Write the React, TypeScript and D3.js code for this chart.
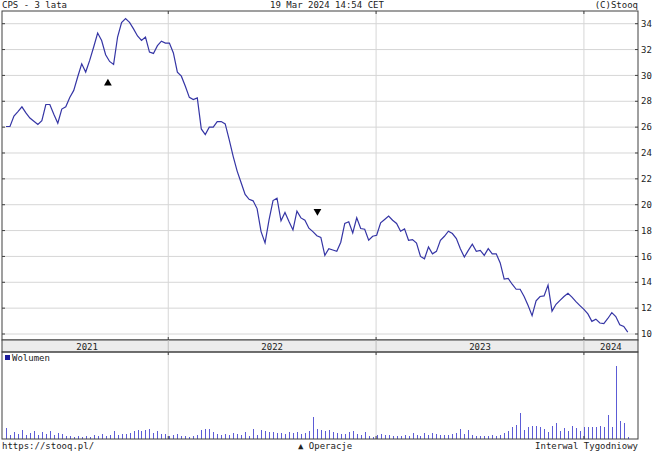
import React from 'react';
import * as d3 from 'd3';

const W = 655;
const H = 452;

// Weekly sessions (Mondays) – 3 years
const weeks: Date[] = d3.timeMonday.range(new Date(2021, 2, 22), new Date(2024, 2, 19));

const closePrices: number[] = [
  26.05, 26.05, 26.85, 27.2, 27.57, 27.1, 26.7, 26.45, 26.2, 26.5,
  27.75, 27.75, 27.0, 26.3, 27.4, 27.57, 28.3, 28.84, 29.9, 30.9,
  30.26, 31.16, 32.2, 33.28, 32.7, 31.6, 31.08, 30.85, 32.97, 34.08,
  34.39, 34.1, 33.6, 33.05, 32.7, 32.97, 31.8, 31.7, 32.3, 32.65,
  32.5, 32.5, 31.74, 30.25, 29.94, 29.16, 28.3, 28.13, 28.26, 25.86,
  25.42, 26.0, 26.0, 26.43, 26.43, 26.25, 25.03, 23.74, 22.6, 21.7,
  20.8, 20.42, 20.3, 19.7, 17.92, 17.05, 18.82, 20.32, 20.5, 18.75,
  19.4, 18.7, 18.05, 19.5, 18.98, 18.8, 18.18, 17.92, 17.6, 17.47,
  16.08, 16.6, 16.5, 16.4, 17.1, 18.55, 18.68, 17.82, 18.99, 18.16,
  18.1, 17.25, 17.56, 17.64, 18.6, 18.86, 19.12, 18.8, 18.55, 17.95,
  18.13, 17.25, 17.3, 17.04, 16.0, 15.82, 16.73, 16.2, 16.39, 17.25,
  17.56, 17.95, 17.77, 17.38, 16.6, 15.95, 16.47, 16.94, 16.39, 16.47,
  16.08, 16.6, 16.2, 16.2, 15.5, 14.25, 14.3, 13.85, 13.46, 13.46,
  12.9, 12.2, 11.42, 12.56, 12.9, 12.95, 13.78, 11.77, 12.3, 12.6,
  12.9, 13.15, 12.85, 12.5, 12.2, 11.9, 11.55, 10.98, 11.15, 10.85,
  10.8, 11.2, 11.65, 11.35, 10.72, 10.58, 10.15,
];

const volumes: number[] = [
  11, 4, 7, 5, 9, 4, 6, 8, 4, 7,
  5, 8, 4, 6, 5, 3, 3, 2, 3, 2,
  3, 2, 4, 3, 5, 3, 4, 8, 4, 5,
  5, 6, 8, 9, 8, 9, 10, 6, 8, 5,
  5, 3, 4, 5, 3, 3, 2, 3, 4, 9,
  10, 10, 7, 5, 4, 5, 4, 6, 5, 4,
  7, 3, 10, 4, 9, 8, 7, 7, 6, 6,
  5, 7, 6, 7, 5, 6, 8, 22, 10, 9,
  8, 9, 7, 6, 5, 5, 7, 8, 5, 4,
  7, 3, 2, 4, 5, 4, 4, 3, 3, 3,
  4, 3, 6, 4, 3, 6, 4, 6, 5, 4,
  4, 4, 5, 6, 10, 5, 9, 4, 3, 3,
  3, 3, 4, 3, 4, 6, 8, 12, 14, 26,
  9, 12, 13, 13, 12, 10, 7, 13, 16, 8,
  11, 8, 13, 11, 8, 12, 12, 12, 12, 13,
  12, 24, 12, 73, 18, 16, 2,
];

const priceTicks: number[] = [10, 12, 14, 16, 18, 20, 22, 24, 26, 28, 30, 32, 34];
const yearLabels: number[] = [2021, 2022, 2023, 2024];

const operationDates: Date[] = [new Date(2021, 8, 17), new Date(2022, 8, 20)];
const operationLevels: number[] = [29.4, 19.5];
const operationKinds: string[] = ['up', 'down'];

const FONT = 'DejaVu Sans Mono';

export default function App() {
  const left = 2;
  const right = 638;
  const top = 11;
  const mainBottom = 340;
  const bandBottom = 352;
  const volBottom = 439;

  const x = d3
    .scaleTime()
    .domain([new Date(2021, 2, 15), new Date(2024, 3, 5)])
    .range([left, right]);
  const y = d3.scaleLinear().domain([10, 34]).range([334, 23.7]);
  const yv = d3.scaleLinear().domain([0, 87]).range([volBottom, bandBottom]);

  const data = weeks.map((d, i) => ({ date: d, close: closePrices[i], vol: volumes[i] }));

  const line = d3
    .line<{ date: Date; close: number }>()
    .x((d) => x(d.date))
    .y((d) => y(d.close));

  const yearStarts = yearLabels.slice(1).map((yr) => new Date(yr, 0, 1));
  const [d0, d1] = x.domain();
  const yearCenters = yearLabels.map((yr) => {
    const a = yr === yearLabels[0] ? weeks[0] : new Date(yr, 0, 1);
    const b = new Date(yr + 1, 0, 1) > d1 ? d1 : new Date(yr + 1, 0, 1);
    return (x(a) + x(b)) / 2;
  });

  const tri = d3.symbol(d3.symbolTriangle, 26)();

  const grid = '#d6d6d6';
  const frame = '#404040';

  return (
    <svg
      width={W}
      height={H}
      style={{ position: 'absolute', left: 0, top: 0, background: '#fff' }}
      fontFamily={FONT}
      fontSize={9}
    >
      <rect x={0} y={0} width={W} height={H} fill="#fff" />
      {/* header */}
      <text x={2} y={8} fill="#222">CPS - 3 lata</text>
      <text x={327} y={8} textAnchor="middle" fill="#222">19 Mar 2024 14:54 CET</text>
      <text x={638} y={8} textAnchor="end" fill="#222">(C)Stooq</text>

      {/* main grid */}
      <defs>
        <clipPath id="mainClip">
          <rect x={left} y={top} width={right - left} height={mainBottom - top} />
        </clipPath>
      </defs>
      {priceTicks.map((t) => (
        <line key={'h' + t} x1={left} x2={right} y1={y(t)} y2={y(t)} stroke={grid} strokeWidth={1} />
      ))}
      {yearStarts.map((d, i) => (
        <line key={'v' + i} x1={x(d)} x2={x(d)} y1={top} y2={mainBottom} stroke={grid} strokeWidth={1} />
      ))}
      {yearStarts.map((d, i) => (
        <line key={'vv' + i} x1={x(d)} x2={x(d)} y1={bandBottom} y2={volBottom} stroke={grid} strokeWidth={1} />
      ))}

      {/* price line */}
      <path d={line(data) || ''} fill="none" stroke="#3535a5" strokeWidth={1.2} clipPath="url(#mainClip)" />

      {/* operations markers */}
      {operationDates.map((d, i) => (
        <path
          key={'op' + i}
          d={tri || ''}
          transform={`translate(${x(d)},${y(operationLevels[i])}) rotate(${operationKinds[i] === 'up' ? 0 : 180})`}
          fill="#000"
        />
      ))}

      {/* frame of main */}
      <rect x={left} y={top} width={right - left} height={mainBottom - top} fill="none" stroke={frame} strokeWidth={1} />
      {priceTicks.map((t) => (
        <g key={'t' + t}>
          <line x1={right - 3} x2={right} y1={y(t)} y2={y(t)} stroke={frame} />
          <line x1={left} x2={left + 3} y1={y(t)} y2={y(t)} stroke={frame} />
          <text x={641} y={y(t)} dy="0.35em" fill="#222">{t}</text>
        </g>
      ))}
      {yearStarts.map((d, i) => (
        <g key={'yt' + i}>
          <line x1={x(d)} x2={x(d)} y1={top} y2={top + 3} stroke={frame} />
          <line x1={x(d)} x2={x(d)} y1={mainBottom - 3} y2={mainBottom} stroke={frame} />
        </g>
      ))}

      {/* year band */}
      <rect x={left} y={mainBottom} width={right - left} height={bandBottom - mainBottom} fill="#ececec" stroke={frame} strokeWidth={1} />
      {yearStarts.map((d, i) => (
        <line key={'bt' + i} x1={x(d)} x2={x(d)} y1={mainBottom} y2={bandBottom} stroke="#bdbdbd" />
      ))}
      {yearLabels.map((yr, i) => (
        <text key={'yl' + yr} x={yearCenters[i]} y={349.5} textAnchor="middle" fill="#222">
          {yr}
        </text>
      ))}

      {/* volume */}
      {data.map((d, i) => (
        <line
          key={'vb' + i}
          x1={Math.round(x(d.date)) + 0.5}
          x2={Math.round(x(d.date)) + 0.5}
          y1={yv(0)}
          y2={yv(d.vol)}
          stroke="#5c5cd6"
          strokeWidth={1}
        />
      ))}
      <rect x={left} y={bandBottom} width={right - left} height={volBottom - bandBottom} fill="none" stroke={frame} strokeWidth={1} />
      {yearStarts.map((d, i) => (
        <g key={'vt' + i}>
          <line x1={x(d)} x2={x(d)} y1={bandBottom} y2={bandBottom + 3} stroke={frame} />
          <line x1={x(d)} x2={x(d)} y1={volBottom - 3} y2={volBottom} stroke={frame} />
        </g>
      ))}
      <rect x={5} y={355} width={5} height={5} fill="#1c1c9c" />
      <text x={12} y={361} fill="#222">Wolumen</text>

      {/* footer */}
      <text x={2} y={449} fill="#222">https://stooq.pl/</text>
      <text x={298} y={449} fill="#222">▲ Operacje</text>
      <text x={638} y={449} textAnchor="end" fill="#222">Interwal Tygodniowy</text>
    </svg>
  );
}
